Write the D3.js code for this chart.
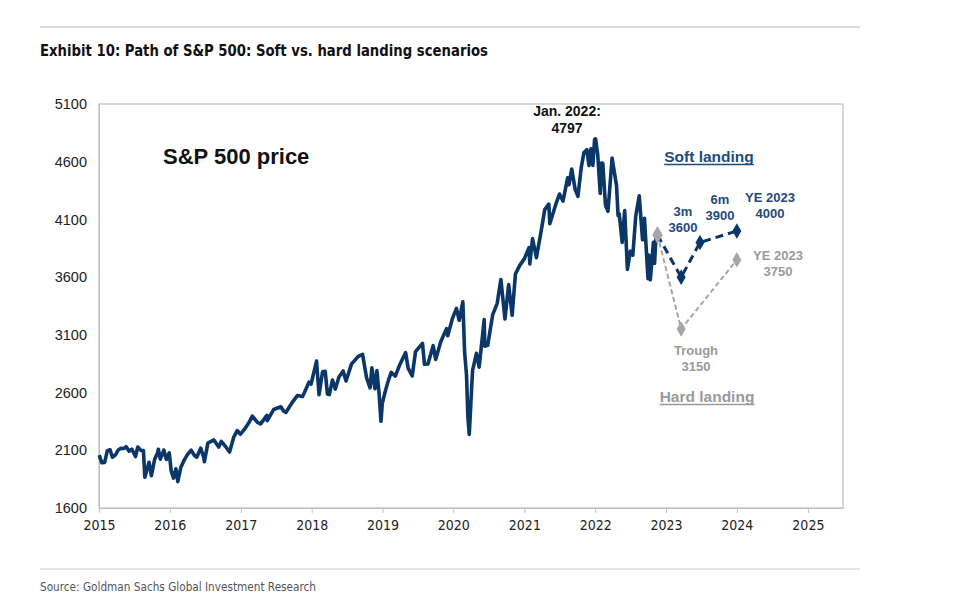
<!DOCTYPE html>
<html><head><meta charset="utf-8">
<script src="https://cdn.jsdelivr.net/npm/d3@7"></script>
<style>body{margin:0;background:#fff;} svg{display:block;}</style>
</head><body><svg id="c" width="976" height="600"></svg>
<script>
// ---- data ----
const spDates = ["2015-01-02","2015-01-15","2015-01-30","2015-02-13","2015-02-27","2015-03-11","2015-03-27","2015-04-10","2015-04-24","2015-05-08","2015-05-21","2015-06-05","2015-06-19","2015-07-08","2015-07-20","2015-08-05","2015-08-18","2015-08-25","2015-09-16","2015-09-28","2015-10-15","2015-10-30","2015-11-03","2015-11-13","2015-12-01","2015-12-14","2015-12-29",
"2016-01-08","2016-01-20","2016-02-01","2016-02-11","2016-02-26","2016-03-15","2016-03-31","2016-04-20","2016-05-06","2016-05-19","2016-06-08","2016-06-24","2016-06-27","2016-07-15","2016-08-15","2016-09-09","2016-09-22","2016-10-14","2016-11-04","2016-11-25","2016-12-13","2016-12-30",
"2017-01-26","2017-02-15","2017-03-01","2017-03-27","2017-04-13","2017-05-15","2017-05-17","2017-06-19","2017-07-26","2017-08-10","2017-08-21","2017-09-20","2017-10-20","2017-11-15","2017-12-18","2017-12-29",
"2018-01-26","2018-02-08","2018-02-26","2018-03-12","2018-03-23","2018-04-02","2018-04-18","2018-05-03","2018-05-21","2018-06-12","2018-06-27","2018-07-25","2018-08-29","2018-09-20","2018-10-11","2018-10-29","2018-11-07","2018-11-23","2018-12-03","2018-12-14","2018-12-24","2018-12-31",
"2019-01-15","2019-01-31","2019-02-15","2019-03-08","2019-03-29","2019-04-30","2019-05-13","2019-06-03","2019-06-20","2019-07-26","2019-08-05","2019-08-23","2019-09-19","2019-10-02","2019-10-28","2019-11-27","2019-12-03","2019-12-27",
"2020-01-17","2020-01-31","2020-02-19","2020-02-28","2020-03-09","2020-03-16","2020-03-23","2020-04-09","2020-04-29","2020-05-13","2020-06-08","2020-06-11","2020-06-26","2020-07-22","2020-08-14","2020-09-02","2020-09-23","2020-10-12","2020-10-30","2020-11-16","2020-12-08","2020-12-31",
"2021-01-25","2021-01-29","2021-02-12","2021-03-04","2021-03-26","2021-04-16","2021-05-07","2021-05-12","2021-06-15","2021-07-01","2021-07-19","2021-08-12","2021-08-19","2021-09-02","2021-09-20","2021-10-04","2021-10-21","2021-11-04","2021-11-19","2021-11-30","2021-12-10","2021-12-20","2021-12-29",
"2022-01-03","2022-01-14","2022-01-27","2022-02-02","2022-02-09","2022-02-23","2022-03-08","2022-03-29","2022-04-21","2022-04-29","2022-05-05","2022-05-20","2022-06-02","2022-06-16","2022-07-01","2022-07-14","2022-07-29","2022-08-16","2022-09-02","2022-09-12","2022-09-30","2022-10-04","2022-10-12","2022-10-28","2022-11-03","2022-11-10","2022-11-18"];
const spValues = [2058,1992,1995,2097,2104,2040,2061,2102,2117,2116,2131,2092,2110,2046,2128,2099,2097,1867,1996,1881,2023,2079,2109,2023,2102,2021,2078,
1922,1859,1939,1829,1948,2015,2060,2102,2057,2040,2119,2037,2001,2162,2190,2128,2177,2133,2085,2213,2271,2239,
2297,2350,2396,2342,2329,2402,2357,2453,2477,2438,2428,2508,2575,2565,2690,2674,
2873,2581,2780,2784,2588,2582,2708,2630,2733,2787,2700,2846,2914,2931,2728,2641,2814,2633,2790,2600,2351,2507,
2610,2704,2775,2743,2834,2946,2812,2744,2954,3026,2845,2847,3006,2887,3040,3154,3093,3240,
3330,3226,3386,2954,2746,2386,2237,2790,2940,2820,3232,3002,3009,3276,3373,3580,3237,3535,3270,3627,3702,3756,
3855,3714,3934,3768,3975,4185,4233,4063,4246,4320,4259,4460,4400,4537,4358,4300,4549,4680,4704,4567,4712,4568,4793,
4797,4663,4326,4589,4587,4225,4171,4632,4393,4132,4147,3901,4177,3667,3825,3790,4130,4305,3924,4110,3586,3791,3577,3901,3720,3956,3965];

const softDates = ["2022-11-18","2023-03-20","2023-06-25","2024-01-01"];
const softValues = [3965,3600,3900,4000];
const hardDates = ["2022-11-18","2023-03-20","2024-01-01"];
const hardValues = [3965,3150,3750];

const yTicks = [1600,2100,2600,3100,3600,4100,4600,5100];
const xTickYears = [2015,2016,2017,2018,2019,2020,2021,2022,2023,2024,2025];

// ---- layout ----
const svg = d3.select("#c");
const L = 99, R = 843, T = 104, B = 508;
const navy = "#0b3768", gray = "#a6a6a6", frame = "#bfbfbf";
const parse = d3.timeParse("%Y-%m-%d");
const F = "'Liberation Sans',Arial,sans-serif";
const FN = "'Liberation Sans Narrow','DejaVu Sans Condensed',Arial,sans-serif";

const x = d3.scaleTime().domain([new Date(2015,0,1), new Date(2025,6,1)]).range([L, R]);
const y = d3.scaleLinear().domain([1600, 5100]).range([B, T]);

// rules
svg.append("line").attr("x1",40).attr("x2",860).attr("y1",27).attr("y2",27).attr("stroke","#dcdcdc").attr("stroke-width",2);
svg.append("line").attr("x1",40).attr("x2",860).attr("y1",569).attr("y2",569).attr("stroke","#dcdcdc").attr("stroke-width",1.5);

svg.append("text").attr("x",40).attr("y",56)
  .attr("font-family",FN).attr("font-weight","bold").attr("font-size",16.5).attr("fill","#111")
  .attr("textLength",448).attr("lengthAdjust","spacingAndGlyphs")
  .text("Exhibit 10: Path of S&P 500: Soft vs. hard landing scenarios");

svg.append("text").attr("x",40).attr("y",591)
  .attr("font-family",FN).attr("font-size",12.5).attr("fill","#555")
  .attr("textLength",276).attr("lengthAdjust","spacingAndGlyphs")
  .text("Source: Goldman Sachs Global Investment Research");

// frame
svg.append("rect").attr("x",L).attr("y",T).attr("width",R-L).attr("height",B-T)
  .attr("fill","none").attr("stroke",frame).attr("stroke-width",1.2);

// axes
const xAxis = d3.axisBottom(x)
  .tickValues(xTickYears.map(yr => new Date(yr,0,1)))
  .tickFormat(d3.timeFormat("%Y")).tickSize(5).tickSizeOuter(0);
const gx = svg.append("g").attr("transform",`translate(0,${B})`).call(xAxis);
gx.select(".domain").attr("stroke",frame);
gx.selectAll(".tick line").attr("stroke",frame);
gx.selectAll(".tick text").attr("font-family",FN).attr("font-size",14).attr("fill","#222").attr("dy","1.0em");

const yAxis = d3.axisLeft(y).tickValues(yTicks).tickSize(0).tickPadding(12).tickFormat(d3.format("d"));
const gy = svg.append("g").attr("transform",`translate(${L},0)`).call(yAxis);
gy.select(".domain").attr("stroke",frame);
gy.selectAll(".tick text").attr("font-family",F).attr("font-size",14.5).attr("fill","#222");

// main line
const sp = spDates.map((d,i)=>({d:parse(d), v:spValues[i]}));
const line = d3.line().x(p=>x(p.d)).y(p=>y(p.v));
svg.append("path").datum(sp).attr("d",line).attr("fill","none")
  .attr("stroke",navy).attr("stroke-width",3.6).attr("stroke-linejoin","round");

// scenarios
const soft = softDates.map((d,i)=>({d:parse(d), v:softValues[i]}));
const hard = hardDates.map((d,i)=>({d:parse(d), v:hardValues[i]}));
svg.append("path").datum(hard).attr("d",line).attr("fill","none")
  .attr("stroke",gray).attr("stroke-width",2).attr("stroke-dasharray","5,3");
svg.append("path").datum(soft).attr("d",line).attr("fill","none")
  .attr("stroke",navy).attr("stroke-width",3).attr("stroke-dasharray","8,5");

const diamond = d3.symbol().type(d3.symbolDiamond).size(70);
svg.selectAll(".hm").data(hard.slice(1)).join("path")
  .attr("d",diamond).attr("transform",p=>`translate(${x(p.d)},${y(p.v)})`).attr("fill",gray);
svg.selectAll(".sm").data(soft.slice(1)).join("path")
  .attr("d",diamond).attr("transform",p=>`translate(${x(p.d)},${y(p.v)})`).attr("fill",navy);
svg.append("path").attr("d",d3.symbol().type(d3.symbolDiamond).size(95))
  .attr("transform",`translate(${x(soft[0].d)},${y(soft[0].v)})`).attr("fill",gray);

// annotations
function txt(xp, yp, s, col, size, anchor){
  return svg.append("text").attr("x",xp).attr("y",yp).attr("font-family",F).attr("font-weight","bold")
    .attr("font-size",size).attr("fill",col).attr("text-anchor",anchor||"middle").text(s);
}
function underline(t, col){
  const bb = t.node().getBBox();
  svg.append("line").attr("x1",bb.x).attr("x2",bb.x+bb.width)
    .attr("y1",+t.attr("y")+2.5).attr("y2",+t.attr("y")+2.5).attr("stroke",col).attr("stroke-width",1.4);
}
txt(163,164,"S&P 500 price","#111",22,"start");
txt(567,116,"Jan. 2022:","#111",14);
txt(567,133,"4797","#111",14);
const softC = "#1f4a7c", grayC = "#9a9a9a";
underline(txt(709,162,"Soft landing",softC,15.5), softC);
txt(683,216,"3m",softC,13); txt(683,232,"3600",softC,13);
txt(720,204,"6m",softC,13); txt(720,220,"3900",softC,13);
txt(770,202,"YE 2023",softC,13); txt(770,218,"4000",softC,13);
txt(778,260,"YE 2023",grayC,13); txt(778,276,"3750",grayC,13);
txt(696,355,"Trough",grayC,13); txt(696,371,"3150",grayC,13);
underline(txt(707,402,"Hard landing",grayC,15.5), grayC);
</script></body></html>
